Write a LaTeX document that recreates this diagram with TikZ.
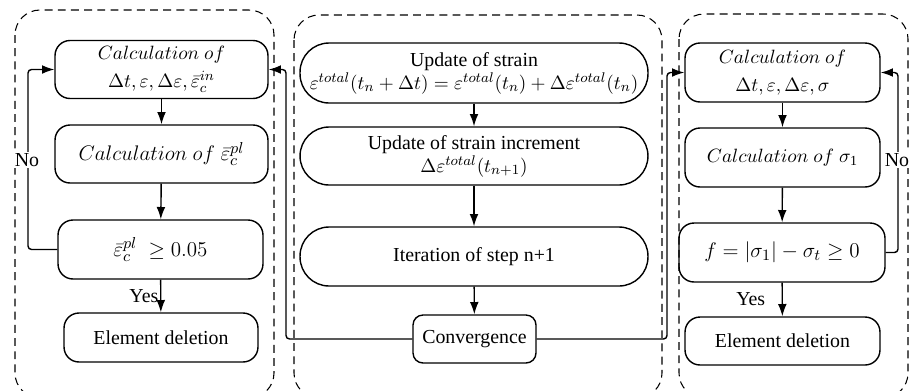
\documentclass[tikz,border=0pt]{standalone}
\usepackage{fontspec}
\setmainfont{Liberation Serif}
\usetikzlibrary{arrows.meta}

\tikzset{
  proc/.style={draw, line width=0.8pt, rounded corners=0.3cm, align=center, inner sep=1pt},
  pill/.style={proc, rounded corners=0.58cm},
  group/.style={draw, dash pattern=on 4.5pt off 3pt, line width=0.6pt, rounded corners=0.5cm},
  flow/.style={-{Latex[length=7pt,width=5pt]}, line width=0.8pt},
  loopback/.style={flow, rounded corners=2pt},
  tag/.style={fill=white, inner sep=1pt}
}

\begin{document}
\begin{tikzpicture}[x=0.02cm, y=-0.02cm, font=\fontsize{11.3}{13}\selectfont]
    \useasboundingbox (0,0) rectangle (909,390);

    % Dashed groups
    \draw[group] (15,10) rectangle (274,398);
    \draw[group] (294,15) rectangle (662,398);
    \draw[group] (679,14) rectangle (908,398);

    % Left column
    \node[proc, minimum width=4.26cm, minimum height=1.16cm] (lcalc) at (161.5,69.5)
        {$Calculation\ of$\\[3pt] $\Delta t, \varepsilon, \Delta\varepsilon, \bar{\varepsilon}_c^{in}$};
    \node[proc, minimum width=4.26cm, minimum height=1.16cm, font=\fontsize{12.5}{15}\selectfont] (lplast) at (161.5,154)
        {$Calculation\ of\ \bar{\varepsilon}_c^{pl}$};
    \node[proc, minimum width=4.1cm, minimum height=1.18cm, font=\fontsize{12.5}{15}\selectfont] (lcheck) at (160.5,249.5)
        {$\bar{\varepsilon}_c^{pl}\ \geq 0.05$};
    \node[proc, minimum width=3.88cm, minimum height=0.98cm] (ldel) at (161,337.5) {Element deletion};

    % Middle column
    \node[pill, minimum width=6.96cm, minimum height=1.2cm] (mupd) at (474,73)
        {Update of strain\\ $\varepsilon^{total}(t_n+\Delta t)=\varepsilon^{total}(t_n)+\Delta\varepsilon^{total}(t_n)$};
    \node[pill, minimum width=6.96cm, minimum height=1.16cm] (minc) at (474,156)
        {Update of strain increment\\ $\Delta\varepsilon^{total}(t_{n+1})$};
    \node[pill, minimum width=6.96cm, minimum height=1.18cm] (miter) at (474,256.5) {Iteration of step n+1};
    \node[proc, rounded corners=0.2cm, minimum width=2.46cm, minimum height=0.96cm, fill=white] (mconv) at (474.5,339) {Convergence};

    % Right column
    \node[proc, minimum width=3.9cm, minimum height=1.18cm] (rcalc) at (782.5,72.5)
        {$Calculation\ of$\\[3pt] $\Delta t, \varepsilon, \Delta\varepsilon, \sigma$};
    \node[proc, minimum width=3.9cm, minimum height=1.18cm] (rsig) at (782.5,157.5)
        {$Calculation\ of\ \sigma_{\mathrm{1}}$};
    \node[proc, minimum width=4.12cm, minimum height=1.18cm, font=\fontsize{12.5}{15}\selectfont] (rcheck) at (782,252.5)
        {$f=|\sigma_1|-\sigma_t\geq 0$};
    \node[proc, minimum width=3.9cm, minimum height=0.96cm] (rdel) at (782.5,341) {Element deletion};

    % Turning points
    \coordinate (lno) at (28,69.5);
    \coordinate (lturn) at (286,69.5);
    \coordinate (rturn) at (667,72.5);
    \coordinate (rno) at (898,72.5);

    % Straight flow
    \draw[flow] (lcalc) -- (lplast);
    \draw[flow] (lplast) -- (lcheck);
    \draw[flow] (lcheck) -- (ldel) node[midway, left, inner sep=1pt] {Yes};
    \draw[flow] (mupd) -- (minc);
    \draw[flow] (minc) -- (miter);
    \draw[flow] (miter) -- (mconv);
    \draw[flow] (rcalc) -- (rsig);
    \draw[flow] (rsig) -- (rcheck);
    \draw[flow] (rcheck) -- (rdel) node[midway, left, xshift=-6pt] {Yes};

    % Feedback loops
    \draw[loopback] (lcheck.west) -| (lno) -- (lcalc.west);
    \draw[loopback] (mconv.west) -| (lturn) -- (lcalc.east);
    \draw[loopback] (mconv.east) -| (rturn) -- (rcalc.west);
    \draw[loopback] (rcheck.east) -| (rno) -- (rcalc.east);
    \node[tag] (lnolab) at (27,160) {No};
    \node[tag] (rnolab) at (897,160) {No};
\end{tikzpicture}
\end{document}
